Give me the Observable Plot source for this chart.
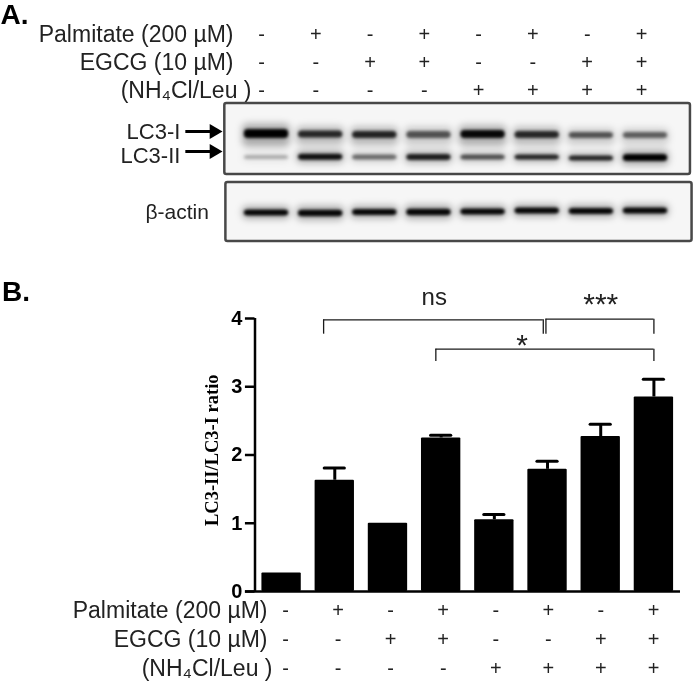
<!DOCTYPE html>
<html><head><meta charset="utf-8">
<script src="https://cdn.jsdelivr.net/npm/d3@7"></script>
<script src="https://cdn.jsdelivr.net/npm/@observablehq/plot@0.6"></script>
<style>
html,body{margin:0;padding:0;background:#fff;overflow:hidden}
svg{display:block}
#chart{filter:blur(.45px)}
</style></head><body>
<div id="chart"></div>
<script>
const lanes = [1,2,3,4,5,6,7,8];
const rowNames = ["Palmitate (200 µM)", "EGCG (10 µM)", "(NH₄Cl/Leu )"];
const palmitate = ["-","+","-","+","-","+","-","+"];
const egcg      = ["-","-","+","+","-","-","+","+"];
const nh4clLeu  = ["-","-","-","-","+","+","+","+"];
const ratio     = [0.27,1.63,1.0,2.25,1.05,1.79,2.27,2.85];
const errorTop  = [null,1.81,null,2.29,1.13,1.91,2.45,3.11];
const yTicks    = [0,1,2,3,4];

// Blot: relative band intensity and migration position per lane
const lc3iIntensity  = [1,.8,.82,.6,.96,.8,.6,.55];
const lc3iiIntensity = [.25,.92,.5,.85,.62,.82,.82,1];
const actinIntensity = [.97,.97,.97,.97,.97,.97,.97,.97];
const lc3iPos  = [33.5,34,34.5,34.5,34,34.5,35,35];
const lc3iiPos = [57,56.7,57,57,57,57,58,57.5];
const actinPos = [112.5,113,112,112,111.5,110.5,111,110.5];
const lc3iThick  = [9,7,7,7,8,7,6,6];
const lc3iiThick = [4,6,5,6,5,5,5,7];
const actinThick = [6,6.5,6,6.5,6,6,6,6];

const font = "Liberation Sans, Arial, sans-serif";
const black = "#000";
const ink = "#222";

const tableRows = lanes.flatMap((l,i)=>[
  {lane:l,row:rowNames[0],sign:palmitate[i]},
  {lane:l,row:rowNames[1],sign:egcg[i]},
  {lane:l,row:rowNames[2],sign:nh4clLeu[i]}]);

function table(opts){
  return Plot.plot({
    width:693, height:opts.height, margin:0, marginLeft:opts.left, marginRight:opts.right,
    marginTop:opts.top, marginBottom:opts.bottom,
    style:{fontFamily:font,background:"transparent"},
    x:{domain:[1,8],axis:null}, y:{domain:rowNames,type:"point",padding:0,axis:null},
    marks:[
      Plot.text(tableRows,{x:"lane",y:"row",text:"sign",fontSize:20,fill:ink}),
      Plot.text(rowNames.slice(0,2),{y:d=>d,text:d=>d,frameAnchor:"left",textAnchor:"end",dx:opts.labelDx,fontSize:23,fill:ink}),
      Plot.text(rowNames.slice(2),{y:d=>d,text:d=>d,frameAnchor:"left",textAnchor:"end",dx:opts.lastDx,fontSize:23,fill:ink}),
      ...(opts.marks||[])
    ]
  });
}

const tableA = table({height:110,left:261,right:52,top:33,bottom:20,labelDx:-28,lastDx:-10,
  marks:[Plot.text(["A."],{frameAnchor:"top-left",dx:-261,dy:-29,text:d=>d,fontSize:28,fontWeight:"bold",fill:black})]});

// Panel A blot
const panels = [{name:"LC3",left:.23,right:8.83,top:3,bottom:74},{name:"actin",left:.25,right:8.86,top:82,bottom:141}];
const bandRows = lanes.flatMap((l,i)=>[
  {lane:l,pos:lc3iPos[i],thick:lc3iThick[i],v:lc3iIntensity[i],smear:3},
  {lane:l,pos:lc3iiPos[i],thick:lc3iiThick[i],v:lc3iiIntensity[i],smear:0},
  {lane:l,pos:actinPos[i],thick:actinThick[i],v:actinIntensity[i],smear:0}]);
const blotLabels = [{t:"LC3-I",pos:31},{t:"LC3-II",pos:55}];
const arrowsData = [{pos:31},{pos:51}];

const blot = Plot.plot({
  width:693,height:145,margin:0,marginLeft:266,marginRight:48,
  style:{fontFamily:font,background:"transparent"},
  x:{domain:[1,8],axis:null},
  y:{domain:[0,145],range:[0,145],axis:null},
  opacity:{domain:[0,1],range:[0,1]},
  marks:[
    Plot.rect(panels,{x1:"left",x2:"right",y1:"top",y2:"bottom",fill:"#f6f6f6",stroke:"#484848",strokeWidth:2.5,rx:2}),
    Plot.rect(bandRows,{x1:d=>d.lane-.44,x2:d=>d.lane+.44,y1:d=>d.pos-d.thick*1.1,y2:d=>d.pos+d.thick*1.1+d.smear,
      fill:"#000",fillOpacity:d=>d.v*.3,imageFilter:"blur(3.5px)",rx:5}),
    Plot.rect(bandRows,{x1:d=>d.lane-.41,x2:d=>d.lane+.41,y1:d=>d.pos-d.thick/2,y2:d=>d.pos+d.thick/2,
      fill:"#000",fillOpacity:"v",imageFilter:"blur(1.5px)",rx:4}),
    Plot.text(blotLabels,{x:-.59,y:"pos",text:"t",textAnchor:"end",fontSize:22,fill:ink}),
    Plot.ruleY(arrowsData,{y:"pos",x1:-.49,x2:.0,stroke:black,strokeWidth:3}),
    Plot.dot(arrowsData,{x:.03,y:"pos",symbol:"triangle",r:5.5,rotate:90,fill:black}),
    Plot.text(["β-actin"],{x:-.65,y:()=>112,text:d=>d,fontSize:21,fill:ink})
  ]
});

// Panel B bars
const bars = lanes.map((l,i)=>({lane:l,value:ratio[i],top:errorTop[i]}));
const errors = bars.filter(d=>d.top!=null);
const brackets = [
  {x1:1.79,x2:5.92,top:3.98,drop:3.77},
  {x1:5.97,x2:8,top:3.99,drop:3.77},
  {x1:3.9,x2:8,top:3.55,drop:3.37}];
const sigLabels = [
  {t:"ns",x:3.87,y:4.31,size:24},
  {t:"***",x:7,y:4.2,size:30},
  {t:"*",x:5.52,y:3.61,size:30}];
const barPlot = Plot.plot({
  width:693,height:366,marginLeft:254.5,marginRight:13,marginTop:73,marginBottom:20,
  style:{fontFamily:font,background:"transparent"},
  x:{domain:[.5,8.5],axis:null},
  y:{domain:[0,4],axis:null},
  marks:[
    Plot.rectY(bars,{x1:d=>d.lane-.37,x2:d=>d.lane+.37,y:"value",fill:black,rx:1}),
    Plot.ruleX(errors,{x:"lane",y1:"value",y2:"top",stroke:black,strokeWidth:3}),
    Plot.ruleY(errors,{y:"top",x1:d=>d.lane-.19,x2:d=>d.lane+.19,stroke:black,strokeWidth:3,strokeLinecap:"round"}),
    Plot.ruleY([0],{x1:.32,x2:8.5,stroke:black,strokeWidth:2.5}),
    Plot.ruleX([.5],{y1:0,y2:4,stroke:black,strokeWidth:2.5}),
    Plot.ruleY(yTicks,{x1:.32,x2:.5,stroke:black,strokeWidth:2.5}),
    Plot.text(yTicks,{x:.3,y:d=>d,text:d=>String(d),textAnchor:"end",dx:-2,fontSize:20,fontWeight:"bold",fill:black}),
    Plot.text(["LC3-II/LC3-I ratio"],{x:-.3,y:2.07,text:d=>d,rotate:-90,fontFamily:"Liberation Serif, Times New Roman, serif",fontSize:18.5,fontWeight:"bold",fill:black}),
    Plot.ruleY(brackets,{y:"top",x1:"x1",x2:"x2",stroke:"#1a1a1a",strokeWidth:1.3}),
    Plot.ruleX(brackets,{x:"x1",y1:"drop",y2:"top",stroke:"#1a1a1a",strokeWidth:1.3}),
    Plot.ruleX(brackets,{x:"x2",y1:"drop",y2:"top",stroke:"#1a1a1a",strokeWidth:1.3}),
    Plot.text(sigLabels,{x:"x",y:"y",text:"t",fontSize:"size",fill:ink}),
    Plot.text(["B."],{frameAnchor:"top-left",dx:-253,dy:-37,text:d=>d,fontSize:28,fontWeight:"bold",fill:black})
  ]
});

const tableB = table({height:86,left:285,right:40,top:14,bottom:14,labelDx:-18,lastDx:-13});

const root = document.getElementById("chart");
blot.style.marginTop = "-10px";
tableB.style.marginTop = "-15px";
[tableA,blot,barPlot,tableB].forEach(n=>root.append(n));
</script>
</body></html>
